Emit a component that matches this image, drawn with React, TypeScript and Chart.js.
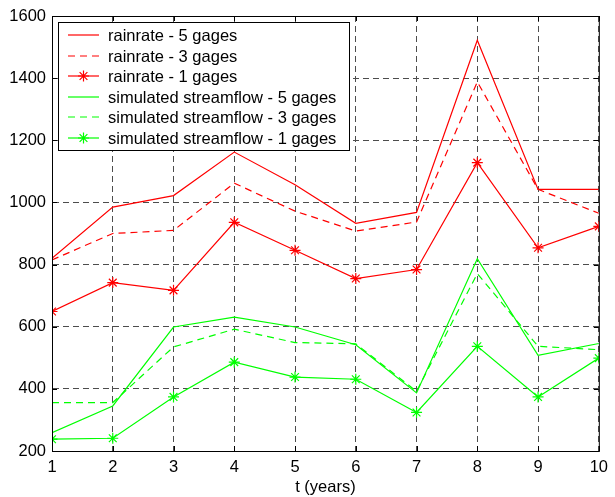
import React, { useEffect, useRef } from "react";
import { Chart, registerables } from "chart.js";

Chart.register(...registerables);

const years = [1, 2, 3, 4, 5, 6, 7, 8, 9, 10];
const rain5 = [820, 985, 1022, 1162, 1057, 933, 968, 1522, 1042, 1042];
const rain3 = [815, 900, 910, 1062, 972, 908, 937, 1388, 1042, 965];
const rain1 = [649, 742, 717, 936, 846, 755, 784, 1128, 854, 923];
const flow5 = [259, 345, 599, 631, 599, 542, 387, 819, 508, 546];
const flow3 = [356, 356, 535, 592, 549, 545, 392, 771, 537, 526];
const flow1 = [238, 241, 374, 486, 438, 431, 324, 537, 374, 499];
const legendLabels = [
  "rainrate - 5 gages",
  "rainrate - 3 gages",
  "rainrate - 1 gages",
  "simulated streamflow - 5 gages",
  "simulated streamflow - 3 gages",
  "simulated streamflow - 1 gages",
];
const xTitle = "t (years)";

const RED = "#ff0000";
const GREEN = "#00ff00";
const FONT = "Liberation Sans, Arial, sans-serif";
const FSIZE = 16.5;

export default function App() {
  const ref = useRef<HTMLCanvasElement | null>(null);

  useEffect(() => {
    document.body.style.margin = "0";
    const canvas = ref.current!;
    const mk = (vals: number[], color: string, dash: number[], star: boolean) => ({
      data: vals.map((v, i) => ({ x: years[i], y: v })),
      borderColor: color,
      backgroundColor: color,
      borderWidth: 1.2,
      borderDash: dash,
      pointStyle: star ? "star" : "circle",
      pointRadius: star ? 5.5 : 0,
      pointBorderWidth: 1.2,
      pointBorderColor: color,
      tension: 0,
      fill: false,
    });
    const specs = [
      { vals: rain5, color: RED, dash: [] as number[], star: false },
      { vals: rain3, color: RED, dash: [7, 5], star: false },
      { vals: rain1, color: RED, dash: [] as number[], star: true },
      { vals: flow5, color: GREEN, dash: [] as number[], star: false },
      { vals: flow3, color: GREEN, dash: [7, 5], star: false },
      { vals: flow1, color: GREEN, dash: [] as number[], star: true },
    ];

    const framePlugin = {
      id: "frame",
      afterDraw(chart: any) {
        const { ctx, chartArea: a } = chart;
        ctx.save();
        ctx.strokeStyle = "#000";
        ctx.lineWidth = 1;
        ctx.setLineDash([]);
        ctx.strokeRect(a.left + 0.5, a.top + 0.5, a.right - a.left, a.bottom - a.top);
        const xs = chart.scales.x;
        const ys = chart.scales.y;
        ctx.beginPath();
        years.forEach((t) => {
          const px = Math.round(xs.getPixelForValue(t)) + 0.5;
          ctx.moveTo(px, a.bottom);
          ctx.lineTo(px, a.bottom - 5);
          ctx.moveTo(px, a.top);
          ctx.lineTo(px, a.top + 5);
        });
        for (let v = 200; v <= 1600; v += 200) {
          const py = Math.round(ys.getPixelForValue(v)) + 0.5;
          ctx.moveTo(a.left, py);
          ctx.lineTo(a.left + 5, py);
          ctx.moveTo(a.right, py);
          ctx.lineTo(a.right - 5, py);
        }
        ctx.stroke();

        // legend
        const bx = 58.5, by = 22.5, bw = 291, bh = 128;
        ctx.fillStyle = "#fff";
        ctx.fillRect(bx, by, bw, bh);
        ctx.strokeStyle = "#000";
        ctx.lineWidth = 1;
        ctx.strokeRect(bx, by, bw, bh);
        ctx.font = FSIZE + "px " + FONT;
        ctx.textBaseline = "middle";
        ctx.textAlign = "left";
        specs.forEach((s, i) => {
          const y = Math.round(35 + i * 20.5);
          ctx.strokeStyle = s.color;
          ctx.lineWidth = 1.2;
          ctx.setLineDash(s.dash);
          ctx.beginPath();
          ctx.moveTo(68, y);
          ctx.lineTo(99, y);
          ctx.stroke();
          ctx.setLineDash([]);
          if (s.star) {
            const cx = 83.5, r = 5.5;
            ctx.beginPath();
            ctx.moveTo(cx - r, y);
            ctx.lineTo(cx + r, y);
            ctx.moveTo(cx, y - r);
            ctx.lineTo(cx, y + r);
            const d = r * Math.SQRT1_2;
            ctx.moveTo(cx - d, y - d);
            ctx.lineTo(cx + d, y + d);
            ctx.moveTo(cx - d, y + d);
            ctx.lineTo(cx + d, y - d);
            ctx.stroke();
          }
          ctx.fillStyle = "#000";
          ctx.fillText(legendLabels[i], 108, y + 1);
        });
        ctx.restore();
      },
    };

    const chart = new Chart(canvas, {
      type: "line",
      data: {
        datasets: specs.map((s) => mk(s.vals, s.color, s.dash, s.star)) as any,
      },
      options: {
        animation: false,
        responsive: false,
        devicePixelRatio: 1,
        layout: { padding: { left: 0, right: 10, top: 16, bottom: 0 } },
        plugins: { legend: { display: false }, tooltip: { enabled: false } },
        scales: {
          x: {
            type: "linear",
            min: 1,
            max: 10,
            afterFit: (s: any) => {
              s.height = 46;
            },
            ticks: {
              stepSize: 1,
              color: "#000",
              font: { family: FONT, size: FSIZE },
              padding: 7,
              maxRotation: 0,
              callback: (v: any) => String(v),
            },
            grid: { color: "#4d4d4d", lineWidth: 1, drawTicks: false },
            border: { display: true, color: "#000", dash: [6, 4] },
            title: {
              display: true,
              text: xTitle,
              color: "#000",
              font: { family: FONT, size: FSIZE },
              padding: { top: 0, bottom: 0 },
            },
          },
          y: {
            type: "linear",
            min: 200,
            max: 1600,
            afterFit: (s: any) => {
              s.width = 52;
            },
            ticks: {
              stepSize: 200,
              color: "#000",
              font: { family: FONT, size: FSIZE },
              padding: 6,
              callback: (v: any) => String(v),
            },
            grid: { color: "#4d4d4d", lineWidth: 1, drawTicks: false },
            border: { display: true, color: "#000", dash: [6, 4] },
          },
        },
      },
      plugins: [framePlugin],
    } as any);
    return () => chart.destroy();
  }, []);

  return <canvas ref={ref} width={615} height={497} style={{ display: "block" }} />;
}
